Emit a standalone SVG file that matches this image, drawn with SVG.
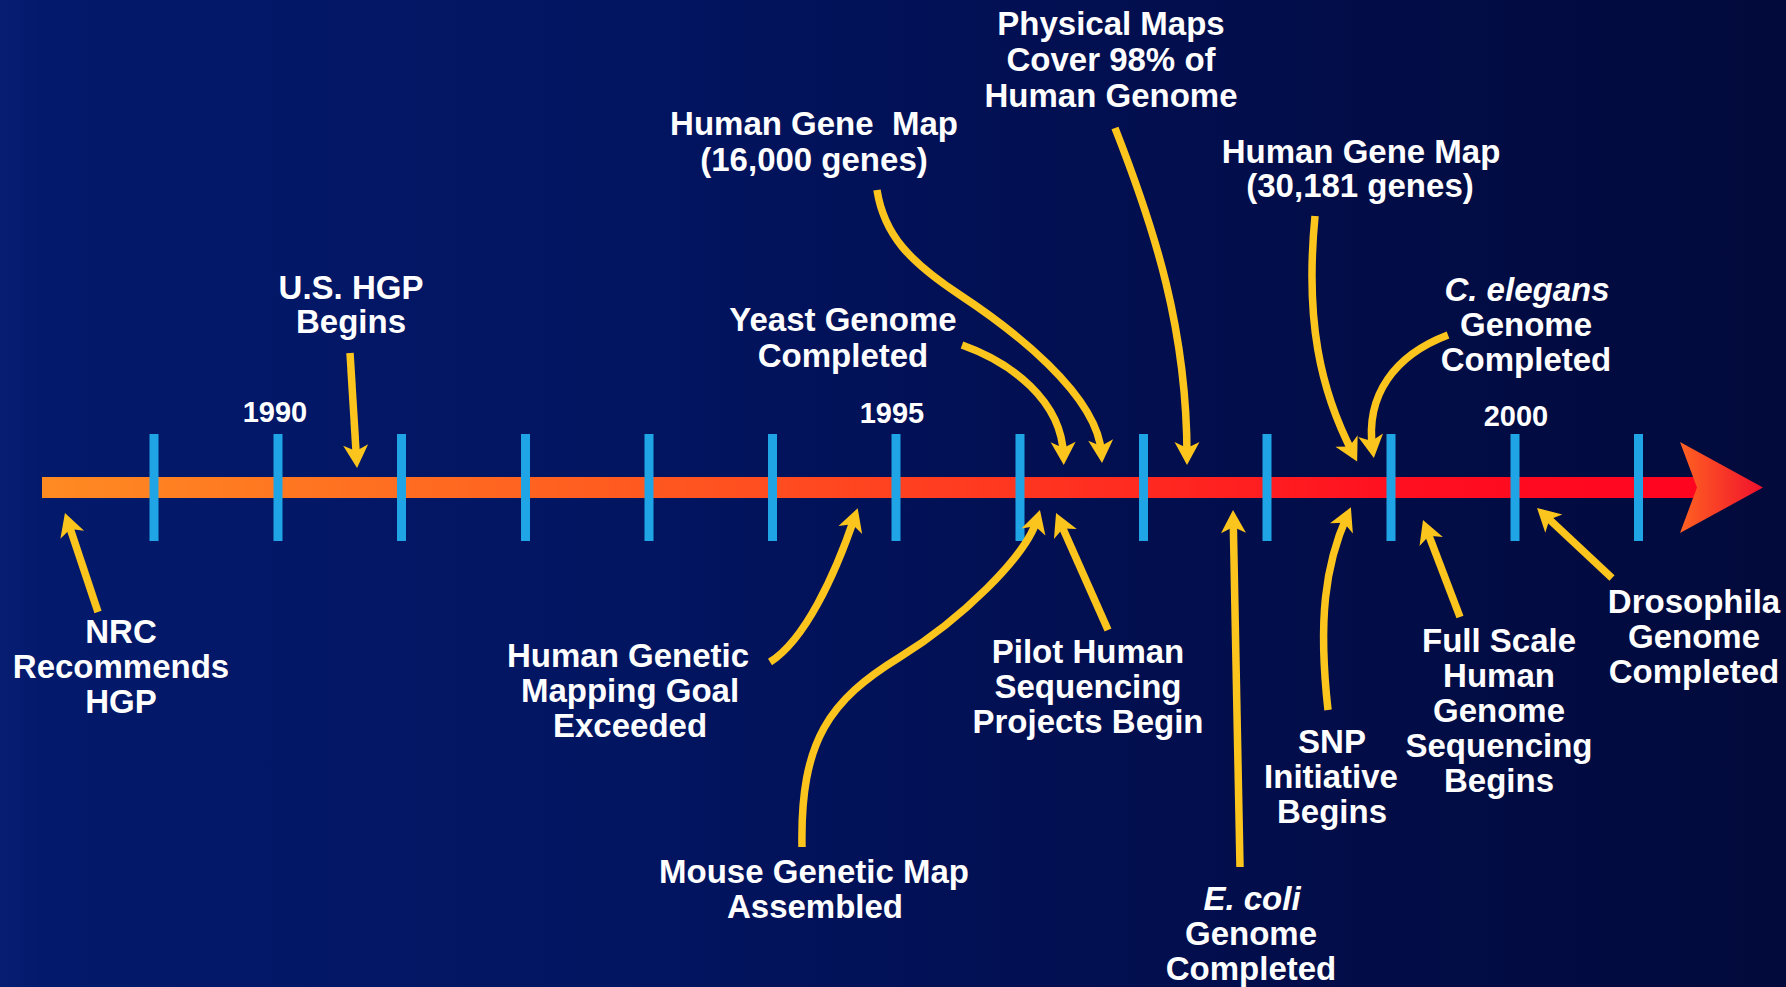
<svg xmlns="http://www.w3.org/2000/svg" width="1786" height="987" viewBox="0 0 1786 987">
  <defs>
    <linearGradient id="bg" x1="0" y1="0" x2="1" y2="0">
      <stop offset="0" stop-color="#071d72"/>
      <stop offset="0.025" stop-color="#03196b"/>
      <stop offset="0.35" stop-color="#021561"/>
      <stop offset="0.6" stop-color="#020f51"/>
      <stop offset="1" stop-color="#020a3b"/>
    </linearGradient>
    <linearGradient id="barg" gradientUnits="userSpaceOnUse" x1="42" y1="0" x2="1700" y2="0">
      <stop offset="0" stop-color="#ff8a22"/>
      <stop offset="0.3" stop-color="#ff6220"/>
      <stop offset="0.6" stop-color="#ff3420"/>
      <stop offset="0.82" stop-color="#ff0f20"/>
      <stop offset="1" stop-color="#ff0420"/>
    </linearGradient>
    <linearGradient id="headg" gradientUnits="userSpaceOnUse" x1="1680" y1="0" x2="1763" y2="0">
      <stop offset="0" stop-color="#ff6222"/>
      <stop offset="1" stop-color="#f0102c"/>
    </linearGradient>
    <marker id="ah" markerUnits="userSpaceOnUse" viewBox="-16 -14 28 28" refX="0" refY="0" markerWidth="28" markerHeight="28" orient="auto" overflow="visible">
      <path d="M9,0 L-14,-12.5 L-8,0 L-14,12.5 Z" fill="#fcc51d"/>
    </marker>
    <style>
      .lbl { font-family: "Liberation Sans", Arial, Helvetica, sans-serif; font-weight: bold; font-size: 33px; fill: #ffffff; text-anchor: middle; }
      .yr { font-family: "Liberation Sans", Arial, Helvetica, sans-serif; font-weight: bold; font-size: 29px; fill: #ffffff; text-anchor: middle; }
      .it { font-style: italic; }
      .tick { fill: #1fa5e5; }
      .conn path { fill: none; stroke: #fcc51d; stroke-width: 7.5; marker-end: url(#ah); }
    </style>
  </defs>

  <rect x="0" y="0" width="1786" height="987" fill="url(#bg)"/>

  <g id="timeline">
    <rect x="42" y="477" width="1658" height="21" fill="url(#barg)"/>
    <polygon points="1680,442 1763,487.5 1680,533 1697,487.5" fill="url(#headg)"/>
    <rect class="tick" x="149.5" y="434" width="9" height="107"/>
    <rect class="tick" x="273.5" y="434" width="9" height="107"/>
    <rect class="tick" x="397" y="434" width="9" height="107"/>
    <rect class="tick" x="521" y="434" width="9" height="107"/>
    <rect class="tick" x="644.5" y="434" width="9" height="107"/>
    <rect class="tick" x="768" y="434" width="9" height="107"/>
    <rect class="tick" x="891.5" y="434" width="9" height="107"/>
    <rect class="tick" x="1015.5" y="434" width="9" height="107"/>
    <rect class="tick" x="1139" y="434" width="9" height="107"/>
    <rect class="tick" x="1262.5" y="434" width="9" height="107"/>
    <rect class="tick" x="1386.5" y="434" width="9" height="107"/>
    <rect class="tick" x="1510.5" y="434" width="9" height="107"/>
    <rect class="tick" x="1634" y="434" width="9" height="107"/>
  </g>

  <g id="year-1990"><text class="yr" x="275" y="422">1990</text></g>
  <g id="year-1995"><text class="yr" x="892" y="423">1995</text></g>
  <g id="year-2000"><text class="yr" x="1516" y="426">2000</text></g>

  <g id="nrc">
    <text class="lbl" x="121" y="643">NRC</text>
    <text class="lbl" x="121" y="678">Recommends</text>
    <text class="lbl" x="121" y="713">HGP</text>
  </g>
  <g id="us-hgp">
    <text class="lbl" x="351" y="299">U.S. HGP</text>
    <text class="lbl" x="351" y="333">Begins</text>
  </g>
  <g id="gene-map-16000">
    <text class="lbl" x="814" y="135" style="white-space:pre">Human Gene  Map</text>
    <text class="lbl" x="814" y="171">(16,000 genes)</text>
  </g>
  <g id="physical-maps">
    <text class="lbl" x="1111" y="35">Physical Maps</text>
    <text class="lbl" x="1111" y="71">Cover 98% of</text>
    <text class="lbl" x="1111" y="107">Human Genome</text>
  </g>
  <g id="gene-map-30181">
    <text class="lbl" x="1361" y="163">Human Gene Map</text>
    <text class="lbl" x="1360" y="197">(30,181 genes)</text>
  </g>
  <g id="yeast">
    <text class="lbl" x="843" y="331">Yeast Genome</text>
    <text class="lbl" x="843" y="367">Completed</text>
  </g>
  <g id="c-elegans">
    <text class="lbl it" x="1527" y="301">C. elegans</text>
    <text class="lbl" x="1526" y="336">Genome</text>
    <text class="lbl" x="1526" y="371">Completed</text>
  </g>
  <g id="genetic-mapping">
    <text class="lbl" x="628" y="667">Human Genetic</text>
    <text class="lbl" x="630" y="702">Mapping Goal</text>
    <text class="lbl" x="630" y="737">Exceeded</text>
  </g>
  <g id="pilot">
    <text class="lbl" x="1088" y="663">Pilot Human</text>
    <text class="lbl" x="1088" y="698">Sequencing</text>
    <text class="lbl" x="1088" y="733">Projects Begin</text>
  </g>
  <g id="mouse">
    <text class="lbl" x="814" y="883">Mouse Genetic Map</text>
    <text class="lbl" x="815" y="918">Assembled</text>
  </g>
  <g id="e-coli">
    <text class="lbl it" x="1252" y="910">E. coli</text>
    <text class="lbl" x="1251" y="945">Genome</text>
    <text class="lbl" x="1251" y="980">Completed</text>
  </g>
  <g id="snp">
    <text class="lbl" x="1332" y="753">SNP</text>
    <text class="lbl" x="1331" y="788">Initiative</text>
    <text class="lbl" x="1332" y="823">Begins</text>
  </g>
  <g id="full-scale">
    <text class="lbl" x="1499" y="652">Full Scale</text>
    <text class="lbl" x="1499" y="687">Human</text>
    <text class="lbl" x="1499" y="722">Genome</text>
    <text class="lbl" x="1499" y="757">Sequencing</text>
    <text class="lbl" x="1499" y="792">Begins</text>
  </g>
  <g id="drosophila">
    <text class="lbl" x="1694" y="613">Drosophila</text>
    <text class="lbl" x="1694" y="648">Genome</text>
    <text class="lbl" x="1694" y="683">Completed</text>
  </g>

  <g id="connectors" class="conn">
    <path d="M98,612 L67.8,521.5"/>
    <path d="M350,353 L356.5,459"/>
    <path d="M770,662 C805,640 835,575 854.8,516.7"/>
    <path d="M802,847 C800,740 830,700 900,657 C960,620 1026,557 1037.4,518.6"/>
    <path d="M1108,630 L1059.7,521.2"/>
    <path d="M877,190 C884,235 910,262 960,295 C1010,328 1098,394 1101.5,454"/>
    <path d="M962,345 C1010,362 1062,400 1063.5,456"/>
    <path d="M1115,128 C1155,230 1187,330 1187,456"/>
    <path d="M1240,867 L1233.2,519"/>
    <path d="M1328,710 C1318,620 1325,565 1347.2,515.5"/>
    <path d="M1315,216 C1305,320 1320,390 1353,453.5"/>
    <path d="M1448,335 C1395,355 1365,395 1372.6,449"/>
    <path d="M1460,617 L1426.2,528.4"/>
    <path d="M1612,578 L1543.6,514.1"/>
  </g>
</svg>
